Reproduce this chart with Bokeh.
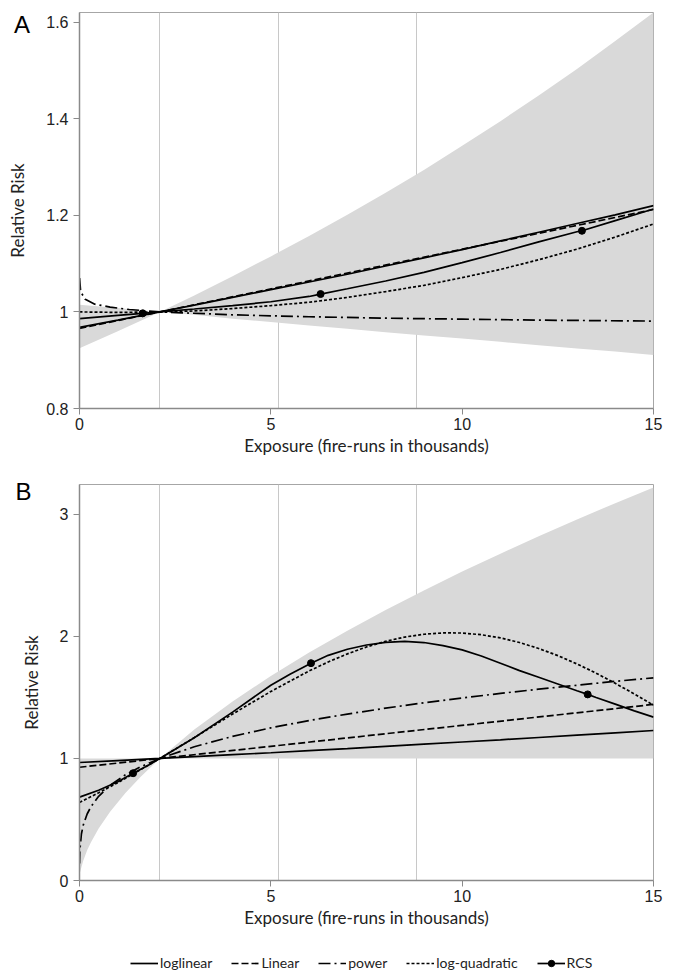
from bokeh.plotting import figure
from bokeh.layouts import column
from bokeh.models import FixedTicker, Label, Legend, LegendItem, Range1d, Div
from bokeh.embed import file_html
from bokeh.resources import INLINE

# ---------------- data ----------------
tick_x = [0, 5, 10, 15]
cut_points = [2.1, 5.2, 8.8, 15]

# Panel A
a_ticks = [0.8, 1.0, 1.2, 1.4, 1.6]
a_tick_labels = ["0.8", "1", "1.2", "1.4", "1.6"]
a_band_x = [0, 1, 2.1, 3, 4, 5, 6, 7, 8, 9, 10, 11, 12, 13, 14, 15]
a_band_lo = [0.925, 0.960, 1.0, 0.994, 0.986, 0.979, 0.972, 0.965, 0.958, 0.951, 0.945, 0.938, 0.931, 0.924, 0.918, 0.911]
a_band_hi = [1.015, 1.008, 1.0, 1.034, 1.074, 1.115, 1.157, 1.201, 1.247, 1.294, 1.344, 1.395, 1.448, 1.503, 1.561, 1.620]

a_loglin_x = [0, 1, 2.1, 3, 4, 5, 6, 7, 8, 9, 10, 11, 12, 13, 14, 15]
a_loglin_y = [0.968, 0.983, 1.0, 1.014, 1.030, 1.046, 1.062, 1.078, 1.095, 1.112, 1.129, 1.147, 1.165, 1.183, 1.201, 1.220]
a_linear_x = [0, 2.1, 15]
a_linear_y = [0.966, 1.0, 1.212]
a_power_x = [0.002, 0.03, 0.15, 0.4, 0.8, 1.3, 2.1, 4, 6, 8, 10, 12, 15]
a_power_y = [1.070, 1.042, 1.026, 1.016, 1.010, 1.005, 1.0, 0.994, 0.990, 0.987, 0.985, 0.983, 0.981]
a_logquad_x = [0, 1, 2.1, 3, 4, 5, 6, 7, 8, 9, 10, 11, 12, 13, 14, 15]
a_logquad_y = [1.0, 0.999, 1.0, 1.002, 1.007, 1.013, 1.020, 1.030, 1.042, 1.055, 1.071, 1.088, 1.108, 1.130, 1.155, 1.182]
a_rcs_x = [0, 1, 1.65, 2.1, 3, 4, 5, 6, 6.3, 7, 8, 9, 10, 11, 12, 13, 13.13, 14, 15]
a_rcs_y = [0.986, 0.993, 0.997, 1.0, 1.006, 1.013, 1.021, 1.032, 1.037, 1.048, 1.064, 1.082, 1.102, 1.123, 1.145, 1.166, 1.168, 1.189, 1.213]
a_rcs_dot_x = [1.65, 6.3, 13.13]
a_rcs_dot_y = [0.997, 1.037, 1.168]

# Panel B
b_ticks = [0, 1, 2, 3]
b_tick_labels = ["0", "1", "2", "3"]
b_band_x = [0, 0.05, 0.1, 0.2, 0.3, 0.5, 0.8, 1.2, 1.6, 2.1, 3, 4, 5, 6, 7, 8, 9, 10, 11, 12, 13, 14, 15]
b_band_lo = [0.05, 0.108, 0.163, 0.247, 0.314, 0.426, 0.563, 0.717, 0.851, 1.0, 1.0, 1.0, 1.0, 1.0, 1.0, 1.0, 1.0, 1.0, 1.0, 1.0, 1.0, 1.0, 1.0]
b_band_hi = [1.0, 1.0, 1.0, 1.0, 1.0, 1.0, 1.0, 1.0, 1.0, 1.0, 1.237, 1.467, 1.676, 1.868, 2.047, 2.217, 2.377, 2.532, 2.678, 2.821, 2.959, 3.092, 3.221]

b_loglin_x = [0, 1, 2.1, 3, 4, 5, 6, 7, 8, 9, 10, 11, 12, 13, 14, 15]
b_loglin_y = [0.967, 0.983, 1.0, 1.015, 1.031, 1.047, 1.064, 1.081, 1.099, 1.117, 1.135, 1.153, 1.172, 1.191, 1.210, 1.229]
b_linear_x = [0, 2.1, 15]
b_linear_y = [0.928, 1.0, 1.443]
b_power_x = [0.001, 0.01, 0.05, 0.1, 0.2, 0.3, 0.5, 0.8, 1.2, 1.6, 2.1, 3, 4, 5, 6, 7, 8, 9, 10, 11, 12, 13, 14, 15]
b_power_y = [0.14, 0.25, 0.381, 0.456, 0.545, 0.605, 0.690, 0.780, 0.866, 0.932, 1.0, 1.096, 1.181, 1.251, 1.311, 1.364, 1.412, 1.456, 1.496, 1.533, 1.568, 1.600, 1.632, 1.661]
b_logquad_x = [0, 0.5, 1, 1.5, 2.1, 3, 4, 5, 6, 6.5, 7, 7.5, 8, 8.5, 9, 9.5, 10, 10.5, 11, 11.5, 12, 12.5, 13, 13.5, 14, 14.5, 15]
b_logquad_y = [0.640, 0.719, 0.802, 0.890, 1.0, 1.171, 1.364, 1.549, 1.717, 1.791, 1.857, 1.914, 1.960, 1.995, 2.018, 2.029, 2.028, 2.014, 1.988, 1.950, 1.901, 1.843, 1.775, 1.699, 1.616, 1.528, 1.436]
b_rcs_x = [0, 0.5, 1.0, 1.4, 1.8, 2.1, 3, 4, 5, 5.5, 6.05, 6.5, 7, 7.5, 8, 8.5, 9, 9.5, 10, 10.5, 11, 11.5, 12, 12.5, 13, 13.28, 13.5, 14, 14.5, 15]
b_rcs_y = [0.683, 0.74, 0.81, 0.879, 0.945, 1.0, 1.17, 1.38, 1.60, 1.69, 1.781, 1.845, 1.895, 1.93, 1.952, 1.959, 1.95, 1.925, 1.89, 1.84, 1.78, 1.72, 1.665, 1.61, 1.555, 1.525, 1.50, 1.445, 1.39, 1.339]
b_rcs_dot_x = [1.4, 6.05, 13.28]
b_rcs_dot_y = [0.879, 1.781, 1.525]

legend_labels = ["loglinear", "Linear", "power", "log-quadratic", "RCS"]

# ---------------- styling ----------------
AXIS_GRAY = "#8a8a8a"
GRID_GRAY = "#c8c8c8"
BAND = "#d9d9d9"
TICK_FONT = "Liberation Sans"
TITLE_FONT = "Lato"
LW = 1.7
DASH_LINEAR = "7 3"
DASH_POWER = "12 4 2 4"
DASH_LOGQ = "3 2"
NAN = float("nan")


def make_fig(height, y0, y1, ticks, labels, top, bottom):
    p = figure(width=673, height=height, x_range=Range1d(0, 15), y_range=Range1d(y0, y1),
               output_backend="svg", toolbar_location=None,
               min_border_left=79, min_border_right=20,
               min_border_top=top, min_border_bottom=bottom)
    p.background_fill_color = "white"
    p.border_fill_color = "white"
    p.outline_line_color = "#a6a6a6"
    p.outline_line_width = 1
    p.ygrid.visible = False
    p.xgrid.ticker = FixedTicker(ticks=cut_points)
    p.xgrid.grid_line_color = GRID_GRAY
    p.xgrid.grid_line_width = 1
    p.xgrid.level = "underlay"

    p.xaxis.ticker = FixedTicker(ticks=tick_x)
    p.yaxis.ticker = FixedTicker(ticks=ticks)
    p.yaxis.major_label_overrides = {t: l for t, l in zip(ticks, labels)}
    for ax in (p.xaxis[0], p.yaxis[0]):
        ax.axis_line_color = AXIS_GRAY
        ax.axis_line_width = 1.5
        ax.major_tick_line_color = AXIS_GRAY
        ax.major_tick_line_width = 1
        ax.major_tick_out = 6
        ax.major_tick_in = 0
        ax.minor_tick_line_color = None
        ax.major_label_text_font = TICK_FONT
        ax.major_label_text_font_size = "16px"
        ax.major_label_text_color = "#222222"
        ax.major_label_standoff = 5
        ax.axis_label_text_font = TITLE_FONT
        ax.axis_label_text_font_size = "17px"
        ax.axis_label_text_font_style = "normal"
        ax.axis_label_text_color = "#222222"
    p.xaxis.axis_label = "Exposure (fire-runs in thousands)"
    p.xaxis.major_label_standoff = 3
    p.xaxis.axis_label_standoff = 2
    p.yaxis.axis_label = "Relative Risk"
    p.yaxis.axis_label_standoff = 15
    return p


def draw(p, band_x, band_lo, band_hi, ll, lin, pw, lq, rcs, dots):
    p.varea(x=band_x, y1=band_lo, y2=band_hi, fill_color=BAND, fill_alpha=1.0)
    r_ll = p.line(ll[0], ll[1], line_color="black", line_width=LW)
    r_lin = p.line(lin[0], lin[1], line_color="black", line_width=LW, line_dash=DASH_LINEAR)
    r_pw = p.line(pw[0], pw[1], line_color="black", line_width=LW, line_dash=DASH_POWER)
    r_lq = p.line(lq[0], lq[1], line_color="black", line_width=LW, line_dash=DASH_LOGQ)
    r_rcs = p.line(rcs[0], rcs[1], line_color="black", line_width=LW)
    r_dot = p.scatter(dots[0], dots[1], size=7, marker="circle", fill_color="black", line_color="black")
    return [r_ll, r_lin, r_pw, r_lq, [r_rcs, r_dot]]


# Panel A: frame 12..408
pA = make_fig(466, 0.8, 1.62, a_ticks, a_tick_labels, top=12, bottom=58)
draw(pA, a_band_x, a_band_lo, a_band_hi,
     (a_loglin_x, a_loglin_y), (a_linear_x, a_linear_y), (a_power_x, a_power_y),
     (a_logquad_x, a_logquad_y), (a_rcs_x, a_rcs_y), (a_rcs_dot_x, a_rcs_dot_y))

# Panel B: frame 484..880
pB = make_fig(469, 0, 3.245, b_ticks, b_tick_labels, top=18, bottom=55)
draw(pB, b_band_x, b_band_lo, b_band_hi,
     (b_loglin_x, b_loglin_y), (b_linear_x, b_linear_y), (b_power_x, b_power_y),
     (b_logquad_x, b_logquad_y), (b_rcs_x, b_rcs_y), (b_rcs_dot_x, b_rcs_dot_y))
# panel letter B: a label living in the right side panel (not clipped to the frame)
pB.add_layout(Label(x=15 - 653, y=389, x_units="screen", y_units="screen",
                    text="B", text_font=TICK_FONT, text_font_size="24px",
                    text_align="left", text_baseline="alphabetic", text_color="black"), "right")

# Legend strip
pL = figure(width=673, height=43, x_range=Range1d(0, 1), y_range=Range1d(0, 1),
            output_backend="svg", toolbar_location=None, x_axis_type=None, y_axis_type=None,
            min_border=0)
pL.outline_line_color = None
pL.grid.visible = False
leg_r = [
    pL.line([NAN], [NAN], line_color="black", line_width=LW),
    pL.line([NAN], [NAN], line_color="black", line_width=LW, line_dash=DASH_LINEAR),
    pL.line([NAN], [NAN], line_color="black", line_width=LW, line_dash=DASH_POWER),
    pL.line([NAN], [NAN], line_color="black", line_width=LW, line_dash=DASH_LOGQ),
    [pL.line([NAN], [NAN], line_color="black", line_width=LW),
     pL.scatter([NAN], [NAN], size=7, marker="circle", fill_color="black", line_color="black")],
]
items = [LegendItem(label=lab, renderers=r if isinstance(r, list) else [r])
         for lab, r in zip(legend_labels, leg_r)]
legend = Legend(items=items, orientation="horizontal", location=(51, 7),
                border_line_color=None, background_fill_alpha=0,
                glyph_width=28, glyph_height=16, label_standoff=2, spacing=19,
                padding=0, margin=0,
                label_text_font=TITLE_FONT, label_text_font_size="14px",
                label_text_color="#222222")
pL.add_layout(legend)

# panel letter A as an overlaid text block
divA = Div(text="A", width=20, height=26,
           styles={"position": "absolute", "left": "9px", "top": "8px", "z-index": "10",
                   "font-family": "Liberation Sans", "font-size": "24px", "line-height": "24px",
                   "color": "black"})

layout = column(pA, pB, pL, divA, spacing=0)
open("out.html", "w").write(file_html(layout, INLINE))
